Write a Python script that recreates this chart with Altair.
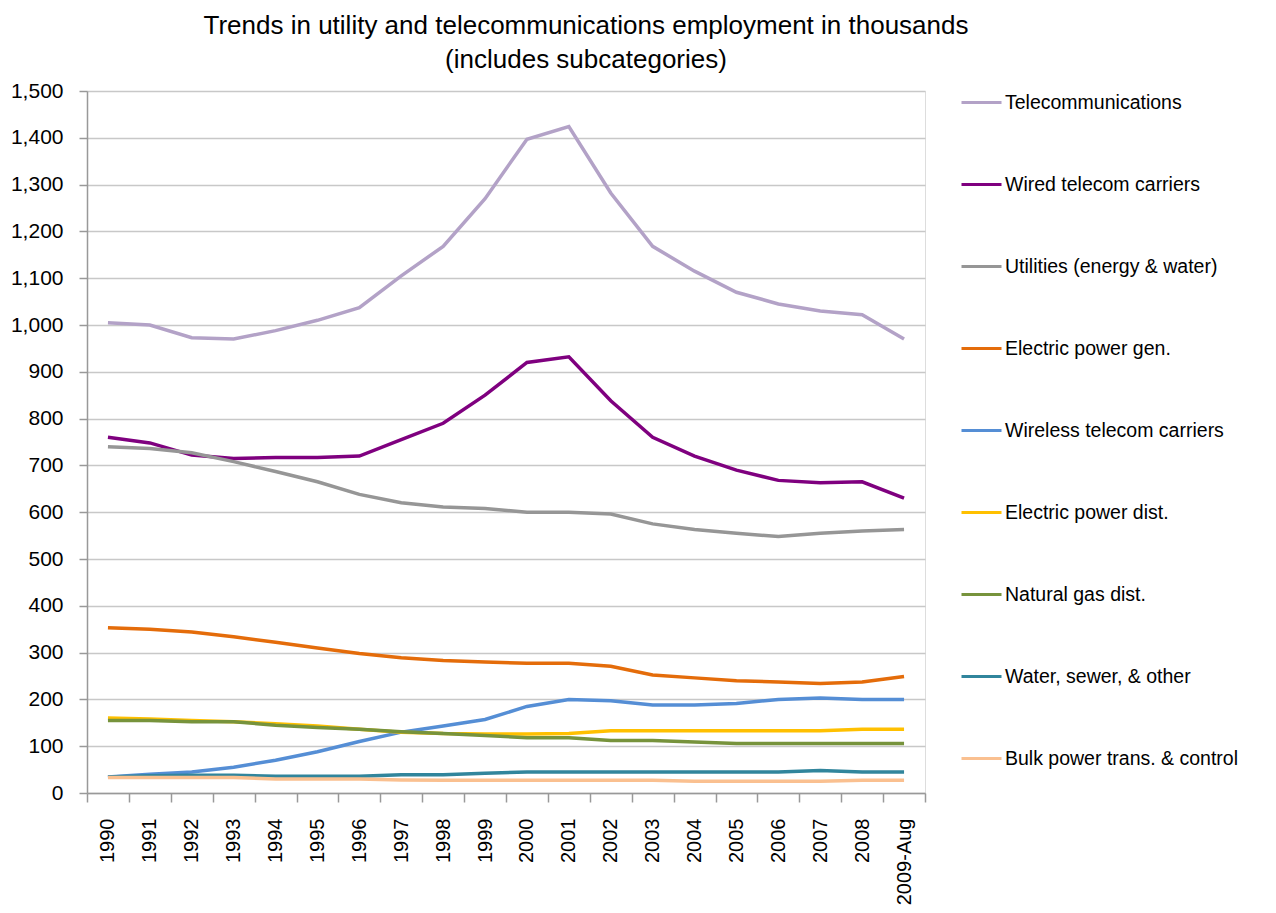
import altair as alt
import pandas as pd

years = ["1990", "1991", "1992", "1993", "1994", "1995", "1996", "1997", "1998", "1999",
         "2000", "2001", "2002", "2003", "2004", "2005", "2006", "2007", "2008", "2009-Aug"]

series_names = [
    "Telecommunications",
    "Wired telecom carriers",
    "Utilities  (energy & water)",
    "Electric power gen.",
    "Wireless telecom carriers",
    "Electric power dist.",
    "Natural gas dist.",
    "Water, sewer, & other",
    "Bulk power trans. & control",
]

telecom = [1005, 1000, 973, 970, 988, 1010, 1037, 1105, 1168, 1270, 1397, 1424, 1282, 1168, 1115, 1070, 1045, 1030, 1022, 970]
wired = [760, 748, 722, 715, 717, 717, 720, 755, 790, 850, 920, 932, 838, 760, 720, 690, 668, 663, 665, 630]
utilities = [740, 736, 727, 708, 687, 665, 638, 620, 611, 608, 600, 600, 596, 575, 563, 555, 548, 555, 560, 563]
elec_gen = [353, 350, 344, 334, 322, 310, 298, 289, 283, 280, 277, 277, 271, 252, 246, 240, 237, 234, 237, 249]
wireless = [34, 40, 45, 55, 70, 88, 110, 130, 143, 157, 185, 200, 197, 188, 188, 191, 200, 203, 200, 200]
elec_dist = [160, 158, 155, 152, 148, 143, 136, 130, 127, 126, 126, 127, 133, 133, 133, 133, 133, 133, 136, 136]
nat_gas = [155, 155, 152, 152, 145, 140, 136, 131, 127, 123, 118, 118, 112, 112, 109, 106, 106, 106, 106, 106]
water = [34, 37, 38, 38, 36, 36, 36, 39, 39, 42, 45, 45, 45, 45, 45, 45, 45, 48, 45, 45]
bulk = [33, 33, 33, 33, 30, 30, 30, 28, 27, 27, 27, 27, 27, 27, 25, 25, 25, 25, 27, 27]

colors = ["#B3A2C7", "#7F007F", "#969696", "#E46C0A", "#558ED5",
          "#FFC000", "#77933C", "#31859C", "#FAC090"]

all_values = [telecom, wired, utilities, elec_gen, wireless, elec_dist, nat_gas, water, bulk]

rows = []
for i, (name, vals) in enumerate(zip(series_names, all_values)):
    for y, v in zip(years, vals):
        rows.append({"Year": y, "Value": v, "Series": name, "order": i})
df = pd.DataFrame(rows)

FONT = "Liberation Sans"

chart = alt.Chart(df).mark_line(strokeWidth=3.5).encode(
    x=alt.X("Year:N", sort=years, bandPosition=0.5,
            scale=alt.Scale(type="band", paddingInner=0, paddingOuter=0),
            axis=alt.Axis(title=None, labelAngle=-90, labelFontSize=20, labelFont=FONT,
                          labelColor="#000000", tickBand="extent", tickColor="#999999",
                          tickSize=9, tickWidth=1.5, domainColor="#999999", domainWidth=1.5,
                          labelPadding=16, grid=False)),
    y=alt.Y("Value:Q", scale=alt.Scale(domain=[0, 1500], nice=False),
            axis=alt.Axis(title=None, values=list(range(0, 1501, 100)), format=",d",
                          labelFontSize=21, labelFont=FONT, labelColor="#000000",
                          gridColor="#C8C8C8", gridWidth=1.5, tickColor="#999999", tickSize=8,
                          tickWidth=1.5, domainColor="#999999", domainWidth=1.5, labelPadding=16)),
    color=alt.Color("Series:N", sort=series_names,
                    scale=alt.Scale(domain=series_names, range=colors),
                    legend=alt.Legend(title=None, orient="none", legendX=873, legendY=-10,
                                      symbolType="stroke", symbolStrokeWidth=3, symbolSize=1600,
                                      labelFontSize=19.5, labelFont=FONT, labelColor="#000000",
                                      labelLimit=400, rowPadding=51, labelOffset=2)),
    order=alt.Order("order:Q"),
).properties(
    width=838,
    height=702,
    autosize=alt.AutoSizeParams(type="none"),
    padding={"left": 79, "top": 83, "right": 340, "bottom": 118},
    title=alt.TitleParams(
        text=["Trends in utility and telecommunications employment in thousands",
              "(includes subcategories)"],
        font=FONT, fontSize=26, fontWeight="normal", color="#000000",
        anchor="middle", dx=80, offset=7, lineHeight=34,
    ),
).configure_view(stroke=None).configure(background="white")

chart.save("out.html", embed_options={"renderer": "svg", "actions": False})
